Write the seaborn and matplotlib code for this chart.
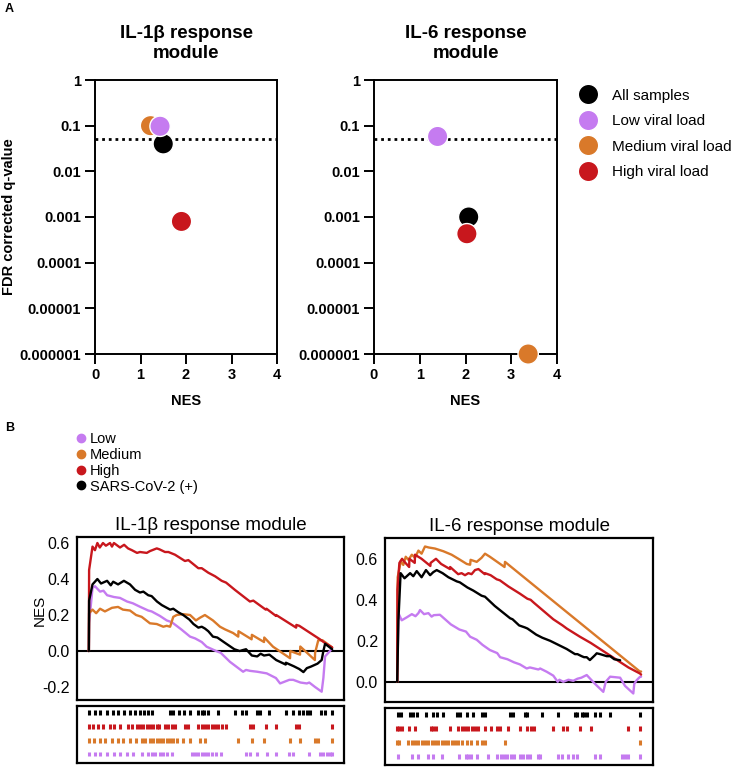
import matplotlib
matplotlib.use('Agg')
import matplotlib.pyplot as plt
import seaborn as sns
import pandas as pd
from matplotlib.lines import Line2D
from matplotlib.ticker import NullLocator

# ---- panel A: GSEA summary (NES vs FDR q) ----
a_groups = ['All samples', 'Low viral load', 'Medium viral load', 'High viral load']
a_draw_order = ['All samples', 'Medium viral load', 'High viral load', 'Low viral load']
il1b_nes = [1.50, 1.43, 1.22, 1.90]
il1b_q = [0.04, 0.097, 0.10, 0.0008]
il6_nes = [2.07, 1.39, 3.37, 2.03]
il6_q = [0.001, 0.058, 0.000001, 0.00043]
q_ticks = [1, 0.1, 0.01, 0.001, 0.0001, 0.00001, 0.000001]
q_tick_labels = ['1', '0.1', '0.01', '0.001', '0.0001', '0.00001', '0.000001']
fdr_cutoff = 0.05

# ---- panel B: running enrichment scores (rank in % of ranked list, ES) ----
b_groups = ['Low', 'Medium', 'High', 'SARS-CoV-2 (+)']

il1b_low = [(0, 0), (0.1, 0.155), (1.5, 0.35), (2.5, 0.36), (4.6, 0.33), (6, 0.335), (7.5, 0.31),
            (10.3, 0.30), (12.8, 0.295), (15.7, 0.275), (18.1, 0.265), (21, 0.246), (24.4, 0.225),
            (25.8, 0.22), (29.2, 0.195), (32, 0.17), (34.1, 0.16), (38, 0.12), (41.6, 0.08),
            (43.7, 0.07), (46.4, 0.05), (48.4, 0.024), (52.3, 0.0), (54.2, -0.01), (58, -0.06),
            (63.4, -0.115), (64.6, -0.105), (66.2, -0.11), (69.2, -0.115), (73.1, -0.124),
            (76.9, -0.15), (78.6, -0.18), (82.4, -0.16), (84, -0.16), (87, -0.175), (89.6, -0.18),
            (90.6, -0.175), (93, -0.2), (95.7, -0.226), (96.4, -0.15), (97.1, -0.03), (99.1, 0.0),
            (100, 0.015)]
il1b_medium = [(0, 0), (0.1, 0.21), (1.5, 0.23), (3, 0.21), (4.6, 0.235), (6.6, 0.22), (9.5, 0.24),
               (12, 0.245), (14, 0.23), (16.9, 0.225), (19.4, 0.2), (21.7, 0.19), (25.1, 0.154),
               (27.9, 0.15), (30.6, 0.135), (32, 0.14), (33.4, 0.135), (34.7, 0.19), (36.1, 0.2),
               (38.6, 0.205), (41.6, 0.2), (44, 0.17), (45.7, 0.185), (47.7, 0.2), (51, 0.17),
               (53.9, 0.135), (56, 0.12), (59.3, 0.10), (61.4, 0.08), (61.5, 0.11), (66.9, 0.065),
               (67, 0.09), (72, 0.05), (72.1, 0.075), (75.7, 0.024), (82.7, -0.04), (82.8, 0.0),
               (86.8, -0.02), (86.9, 0.025), (92.9, -0.05), (93, -0.01), (94.3, 0.06), (96, 0.06),
               (100, 0.02)]
il1b_high = [(0, 0), (0.1, 0.45), (1.5, 0.58), (2.5, 0.56), (3.5, 0.60), (4.5, 0.575), (5.8, 0.60),
             (7, 0.585), (8.7, 0.60), (9.5, 0.58), (10.3, 0.60), (12.8, 0.575), (14.5, 0.59),
             (16.1, 0.57), (17.7, 0.56), (19.8, 0.545), (21, 0.55), (23.8, 0.545), (25.1, 0.555),
             (27.9, 0.57), (29, 0.565), (31.3, 0.55), (32.7, 0.55), (35.4, 0.535), (39.5, 0.50),
             (40.9, 0.505), (45, 0.46), (46.4, 0.46), (49.1, 0.435), (51.9, 0.415), (54.6, 0.39),
             (56.4, 0.38), (60, 0.34), (66.2, 0.275), (67.6, 0.28), (72.7, 0.23), (73, 0.235),
             (76.9, 0.195), (77, 0.2), (85.2, 0.13), (85.3, 0.145), (86.5, 0.14), (95, 0.065),
             (97, 0.045), (100, 0.02)]
il1b_all = [(0, 0), (0.1, 0.28), (1.5, 0.37), (3.5, 0.40), (5, 0.375), (7.5, 0.39), (9, 0.365),
            (10, 0.385), (12, 0.37), (14.4, 0.39), (16.9, 0.37), (19, 0.34), (21, 0.325),
            (22.4, 0.33), (24.4, 0.31), (25.8, 0.305), (28, 0.275), (30, 0.255), (33.4, 0.23),
            (34.7, 0.235), (36.8, 0.215), (38.8, 0.2), (41.3, 0.175), (43, 0.15), (45, 0.13),
            (46.4, 0.135), (47.7, 0.125), (49.1, 0.11), (51, 0.08), (52.8, 0.075), (56, 0.045),
            (59.8, 0.01), (62, 0.0), (63.2, 0.005), (64.6, 0.01), (67, -0.025), (69.2, -0.03),
            (70.6, -0.015), (72, -0.025), (74.2, -0.02), (77, -0.05), (80.9, -0.075), (81, -0.065),
            (84.3, -0.085), (86.5, -0.1), (88.2, -0.117), (89.6, -0.095), (91.2, -0.087),
            (94, -0.07), (95.7, -0.05), (96.4, 0.0), (97.1, 0.04), (100, 0.01)]

il6_low = [(0, 0), (0.5, 0.335), (1.85, 0.30), (4, 0.315), (6, 0.33), (7.5, 0.32), (8.7, 0.335),
           (9.35, 0.35), (11, 0.33), (12.8, 0.335), (14.1, 0.318), (15, 0.325), (17.5, 0.327),
           (18.2, 0.32), (22, 0.28), (25.5, 0.255), (28.2, 0.245), (29.9, 0.22), (32.6, 0.205),
           (35, 0.18), (38, 0.155), (41, 0.14), (42.2, 0.12), (45.2, 0.11), (47.9, 0.095),
           (50.3, 0.085), (53.1, 0.065), (54.4, 0.07), (57.9, 0.06), (58.6, 0.065), (61.3, 0.049),
           (64, 0.03), (65.8, 0.0), (66.5, 0.01), (68.1, 0.0), (70.2, 0.01), (72.2, 0.005),
           (73.9, 0.015), (75.5, 0.02), (77.7, 0.033), (81.1, -0.01), (84.5, -0.049), (85.5, 0.0),
           (87.3, 0.025), (91.4, 0.02), (93.4, -0.02), (96.8, -0.057), (97.2, -0.01), (98.2, 0.008),
           (99.6, 0.025), (100, 0.025)]
il6_medium = [(0, 0), (0.2, 0.51), (1.5, 0.59), (2.5, 0.57), (3.5, 0.61), (4.6, 0.595), (6, 0.62),
              (7.3, 0.605), (8.7, 0.64), (10, 0.625), (11.4, 0.66), (13, 0.655), (15.5, 0.65),
              (18.9, 0.637), (22.3, 0.62), (25.1, 0.6), (28.5, 0.575), (29.9, 0.571), (30.1, 0.595),
              (32.6, 0.585), (34.6, 0.605), (36, 0.625), (38, 0.61), (44, 0.56), (44.2, 0.585),
              (99.5, 0.05), (100, 0.05)]
il6_high = [(0, 0), (0.1, 0.45), (0.9, 0.58), (2, 0.60), (3, 0.585), (4.9, 0.56), (5, 0.60),
            (7.2, 0.58), (7.3, 0.62), (10, 0.60), (13.6, 0.565), (13.7, 0.58), (14.8, 0.59),
            (15.9, 0.60), (18, 0.575), (21.6, 0.55), (21.7, 0.56), (25, 0.525), (26.4, 0.53),
            (27.8, 0.52), (29.2, 0.53), (30.5, 0.525), (31.9, 0.545), (33.3, 0.55), (35.9, 0.525),
            (36, 0.53), (38.3, 0.52), (40.8, 0.50), (42.1, 0.495), (45.6, 0.465), (50.3, 0.43),
            (53.4, 0.405), (54.7, 0.40), (56.1, 0.385), (64, 0.305), (67.8, 0.275), (69.5, 0.26),
            (74.9, 0.22), (79.3, 0.19), (94.8, 0.07), (99.6, 0.04), (100, 0.035)]
il6_all = [(0, 0), (0.5, 0.3), (1.4, 0.53), (3, 0.505), (5.3, 0.53), (6.6, 0.515), (8, 0.54),
           (10, 0.51), (11.8, 0.545), (13.5, 0.52), (14.8, 0.535), (16.2, 0.545), (18.6, 0.53),
           (21, 0.51), (24.4, 0.49), (25.7, 0.485), (28.8, 0.46), (31.2, 0.445), (34.6, 0.42),
           (36, 0.415), (40, 0.37), (46.3, 0.31), (47.3, 0.305), (50, 0.275), (52.4, 0.265),
           (53.4, 0.26), (57, 0.23), (59.5, 0.215), (62.7, 0.2), (66.1, 0.18), (69.5, 0.16),
           (72.9, 0.135), (73.9, 0.135), (75.6, 0.125), (76.6, 0.12), (77.7, 0.12), (79, 0.106),
           (81.1, 0.13), (81.8, 0.139), (83.2, 0.135), (85.9, 0.125), (87.3, 0.125), (89, 0.11),
           (91.4, 0.105)]

# gene hit positions (rug rows)
il1b_hits_low = [0, 2.5, 4.6, 7.5, 10.3, 12.8, 15.7, 18.1, 21.7, 24.4, 25.8, 27.2, 29.2, 30.6, 32,
                 34.1, 42.3, 43.7, 45, 46.4, 47.7, 49.1, 50.5, 52.3, 54.2, 64.6, 66.2, 69.2, 73.1,
                 76.9, 82.4, 83.8, 90.6, 95, 96.4, 97.8, 99.1, 100]
il1b_hits_medium = [0, 2.1, 4.6, 6.6, 9.5, 12, 14, 16.9, 19.4, 21.7, 23.1, 25.1, 26.5, 27.9, 29.2,
                    30.6, 32, 33.4, 34.7, 36.1, 38.6, 41.6, 45.7, 47.7, 61.4, 66.9, 72, 82.7, 86.8,
                    93, 94.3, 100]
il1b_hits_high = [0, 1.7, 3.8, 5.8, 8.7, 10.3, 12.8, 16.1, 17.7, 19.8, 21, 22.4, 23.8, 25.1, 26.5,
                  27.9, 29, 31.3, 32.7, 34.1, 35.4, 39.5, 40.9, 45, 46.4, 47.7, 49.1, 50.5, 51.9,
                  53.2, 54.6, 56.4, 66.2, 67.6, 72.7, 76.9, 85.2, 86.5, 100]
il1b_hits_all = [0, 2.5, 4.5, 7.5, 10, 12, 14.5, 17, 19, 21, 22.5, 24.5, 26, 33.5, 34.5, 37, 39,
                 41.5, 45, 46.5, 47.5, 49, 53, 60, 63, 64.5, 69, 70.5, 74, 81, 84, 86.5, 88, 89.5,
                 91, 95.5, 97, 100]

il6_hits_low = [0.5, 6, 8.7, 12.8, 14.8, 18.2, 25.5, 28.2, 29.2, 30.1, 32.6, 37.4, 41, 42.4, 43.8,
                45.2, 46.5, 47.9, 50.3, 51.7, 53.1, 54.4, 57.9, 58.6, 65.8, 67.4, 70.2, 72.2, 73.9,
                81.1, 83.2, 92, 93.4, 94.8, 99.6]
il6_hits_medium = [0, 0.9, 4.6, 6, 7.3, 8.7, 10, 11.4, 12.8, 14.1, 15.5, 16.9, 18.2, 19.6, 21,
                   22.3, 23.7, 25.1, 26.4, 28.5, 30.1, 32.6, 34.6, 36, 44.2, 99.6]
il6_hits_high = [0, 0.9, 2, 5, 7.3, 13.7, 14.8, 15.9, 21.7, 25.1, 26.4, 27.8, 29.2, 30.5, 31.9,
                 33.3, 36, 38.3, 40.8, 42.1, 45.6, 50.3, 53.4, 54.7, 56.1, 64, 67.8, 69.5, 74.9,
                 79.3, 94.8, 99.6]
il6_hits_all = [0.5, 1.4, 5.3, 6.6, 8, 11.8, 14.8, 16.2, 18.6, 24.4, 25.7, 28.8, 31.2, 34.6, 36,
                46.3, 47.3, 52.4, 53.4, 59.5, 66.1, 72.9, 73.9, 75.6, 76.6, 77.7, 81.1, 83.2, 87.3,
                99.6]

c_black = '#000000'
c_low = '#C57BF0'
c_med = '#D9792A'
c_high = '#C8171D'

a_palette = dict(zip(a_groups, [c_black, c_low, c_med, c_high]))
b_palette = dict(zip(b_groups, [c_low, c_med, c_high, c_black]))

sns.set_theme(style='ticks')
plt.rcParams['font.family'] = ['Liberation Sans', 'DejaVu Sans']
plt.rcParams.update({
    'axes.edgecolor': 'black',
    'text.color': 'black',
    'axes.labelcolor': 'black',
    'xtick.color': 'black',
    'ytick.color': 'black',
})

W, H = 747, 768
fig = plt.figure(figsize=(W / 100, H / 100), dpi=100)


def px_axes(left, top, right, bottom):
    return fig.add_axes([left / W, 1 - bottom / H, (right - left) / W, (bottom - top) / H])


# ---------------- Panel A ----------------
axA1 = px_axes(95, 80, 277, 354)
axA2 = px_axes(374, 80, 557, 354)

for ax, nes, q, title, show_leg in [(axA1, il1b_nes, il1b_q, 'IL-1β response\nmodule', False),
                                    (axA2, il6_nes, il6_q, 'IL-6 response\nmodule', True)]:
    df = pd.DataFrame({'group': a_groups, 'nes': nes, 'q': q})
    df = df.set_index('group').loc[a_draw_order].reset_index()
    ax.axhline(fdr_cutoff, color='black', lw=2, ls=(0, (1, 1.4)), zorder=1)
    sns.scatterplot(data=df, x='nes', y='q', hue='group', hue_order=a_groups,
                    palette=a_palette, s=215, edgecolor='white', linewidth=1,
                    clip_on=False, zorder=3, ax=ax, legend=show_leg)
    ax.set_yscale('log')
    ax.set_ylim(1e-6, 1)
    ax.set_xlim(0, 4)
    ax.set_yticks(q_ticks)
    ax.set_yticklabels(q_tick_labels, fontweight='bold')
    ax.yaxis.set_minor_locator(NullLocator())
    ax.set_xticks([0, 1, 2, 3, 4])
    ax.set_xticklabels(['0', '1', '2', '3', '4'], fontweight='bold')
    ax.tick_params(direction='out', length=7, width=1.4, labelsize=10.5, pad=3)
    for sp in ax.spines.values():
        sp.set_linewidth(1.4)
    ax.set_title(title, fontsize=13.5, fontweight='bold', pad=16, linespacing=1.25)
    ax.set_xlabel('NES', fontsize=10.5, fontweight='bold', labelpad=9)
    ax.set_ylabel('')

axA1.set_ylabel('FDR corrected q-value', fontsize=10.5, fontweight='bold')
axA1.yaxis.set_label_coords((16 - 95) / 182, 0.5)

sns.move_legend(axA2, 'upper left', bbox_to_anchor=(565 / W, 1 - 81 / H),
                bbox_transform=fig.transFigure, frameon=False, title=None,
                fontsize=11, labelspacing=0.75, handletextpad=0.55, borderpad=0)

fig.text(5 / W, 1 - 9 / H, 'A', fontsize=9, fontweight='bold', va='center', ha='left')
fig.text(5 / W, 1 - 428 / H, 'B', fontsize=9, fontweight='bold', va='center', ha='left')

# ---------------- Panel B ----------------
curves = {
    'IL-1β response module': dict(zip(b_groups, [il1b_low, il1b_medium, il1b_high, il1b_all])),
    'IL-6 response module': dict(zip(b_groups, [il6_low, il6_medium, il6_high, il6_all])),
}
hits = {
    'IL-1β response module': dict(zip(b_groups, [il1b_hits_low, il1b_hits_medium, il1b_hits_high, il1b_hits_all])),
    'IL-6 response module': dict(zip(b_groups, [il6_hits_low, il6_hits_medium, il6_hits_high, il6_hits_all])),
}
rug_rows = dict(zip(b_groups, [0, 1, 2, 3]))

layout = {
    'IL-1β response module': dict(main=(76.7, 536.7, 344.3, 700), rug=(76.7, 705.7, 344.3, 762.7),
                                  ylim=(-0.272, 0.635), yticks=[-0.2, 0.0, 0.2, 0.4, 0.6]),
    'IL-6 response module': dict(main=(385, 538.3, 653.3, 702.3), rug=(385, 707.7, 653.3, 765),
                                 ylim=(-0.10, 0.70), yticks=[0.0, 0.2, 0.4, 0.6]),
}

for i, (name, lay) in enumerate(layout.items()):
    ax = px_axes(*lay['main'])
    rows = []
    for g in b_groups:
        for r, es in curves[name][g]:
            rows.append({'group': g, 'rank': r, 'es': es})
    cdf = pd.DataFrame(rows)
    ax.axhline(0, color='black', lw=1.5, zorder=1)
    sns.lineplot(data=cdf, x='rank', y='es', hue='group', hue_order=b_groups, palette=b_palette,
                 estimator=None, sort=False, lw=1.7, ax=ax, legend=False)
    ax.set_xlim(-5, 105)
    ax.set_ylim(*lay['ylim'])
    ax.set_xticks([])
    ax.set_yticks(lay['yticks'])
    ax.set_yticklabels(['%.1f' % v for v in lay['yticks']])
    ax.tick_params(axis='y', length=0, labelsize=11.5, pad=5)
    for sp in ax.spines.values():
        sp.set_linewidth(1.6)
    ax.set_xlabel('')
    ax.set_title(name, fontsize=13.5, pad=5)
    if i == 0:
        ax.set_ylabel('NES', fontsize=11)
        ax.yaxis.set_label_coords((47 - 76.7) / 267.6, 0.55)
    else:
        ax.set_ylabel('')

    axr = px_axes(*lay['rug'])
    hrows = []
    for g in b_groups:
        for r in hits[name][g]:
            hrows.append({'group': g, 'rank': r, 'row': rug_rows[g]})
    hdf = pd.DataFrame(hrows)
    sns.scatterplot(data=hdf, x='rank', y='row', hue='group', hue_order=b_groups,
                    palette=b_palette, marker='|', s=12, linewidth=2.2, ax=axr, legend=False)
    axr.set_xlim(-5, 105)
    axr.set_ylim(-0.63, 3.51)
    axr.set_xticks([])
    axr.set_yticks([])
    axr.set_xlabel('')
    axr.set_ylabel('')
    for sp in axr.spines.values():
        sp.set_linewidth(1.6)

b_handles = [Line2D([], [], marker='o', ls='', color=b_palette[g], markersize=6) for g in b_groups]
fig.legend(b_handles, b_groups, loc='upper left', bbox_to_anchor=(67 / W, 1 - 425 / H),
           frameon=False, fontsize=10.5, handletextpad=0.15, labelspacing=0.12,
           borderpad=0, handlelength=0.9)

fig.savefig('out.png', dpi=100)
